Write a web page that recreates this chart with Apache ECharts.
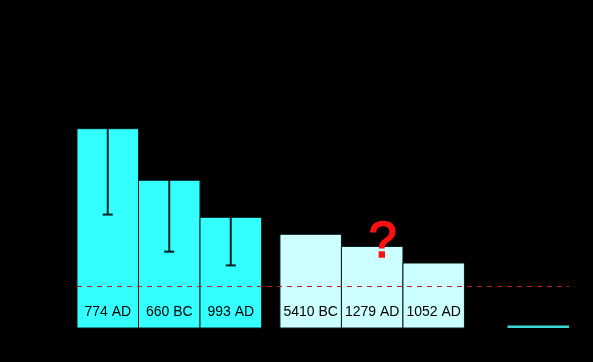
<!DOCTYPE html>
<html><head><meta charset="utf-8">
<script src="https://cdn.jsdelivr.net/npm/echarts@6/dist/echarts.min.js"></script>
<style>html,body{margin:0;padding:0;background:#000;}#c{width:593px;height:362px;}</style>
</head><body><div id="c"></div>
<script>
var categories = ['774 AD', '660 BC', '993 AD', '5410 BC', '1279 AD', '1052 AD', ''];
var positions = [1, 2, 3, 4.3, 5.3, 6.3, 8];
var values = [1.0, 0.741, 0.555, 0.470, 0.409, 0.326, 0.012];
var lowerErr = [0.569, 0.383, 0.314, null, null, null, null];
var threshold = 0.214;
var questionAt = 4; // index of uncertain event

var colors = ['#33ffff', '#33ffff', '#33ffff', '#ccffff', '#ccffff', '#ccffff', '#3ad6d6'];

var barData = positions.map(function (p, i) { return [p, values[i], i]; });
var errData = positions.map(function (p, i) { return lowerErr[i] == null ? null : [p, values[i], lowerErr[i]]; }).filter(Boolean);

var chart = echarts.init(document.getElementById('c'));
chart.setOption({
  backgroundColor: '#000',
  animation: false,
  grid: { left: 77, right: 24, top: 29, bottom: 34 },
  xAxis: { type: 'value', min: 0.5, max: 8.5, show: false },
  yAxis: { type: 'value', min: 0, max: 1.5, show: false },
  series: [
    {
      type: 'custom',
      data: barData,
      renderItem: function (params, api) {
        var x = api.value(0), v = api.value(1), i = api.value(2);
        var p0 = api.coord([x - 0.5, v]);
        var p1 = api.coord([x + 0.5, 0]);
        var isLast = i === values.length - 1;
        var children = [{
          type: 'rect',
          shape: { x: p0[0], y: p0[1], width: p1[0] - p0[0], height: p1[1] - p0[1] },
          style: { fill: colors[i], stroke: isLast ? null : '#0a1a1a', lineWidth: isLast ? 0 : 1 }
        }];
        if (categories[i]) {
          children.push({
            type: 'text',
            x: (p0[0] + p1[0]) / 2, y: p1[1] - 16,
            style: { text: categories[i], fill: '#000', font: '14px "Liberation Sans", Arial, sans-serif', align: 'center', verticalAlign: 'middle' }
          });
        }
        if (i === questionAt) {
          children.push({
            type: 'text',
            x: (p0[0] + p1[0]) / 2 + 10.5, y: p0[1] - 3,
            style: { text: '?', fill: '#ff1010', stroke: '#ff1010', lineWidth: 1.6, font: '50px "Liberation Sans", Arial, sans-serif', align: 'center', verticalAlign: 'middle' },
            z2: 10
          });
        }
        return { type: 'group', children: children };
      },
      z: 2
    },
    {
      type: 'custom',
      data: errData,
      renderItem: function (params, api) {
        var x = api.value(0);
        var top = api.coord([x, api.value(1)]);
        var bot = api.coord([x, api.value(2)]);
        return { type: 'group', children: [
          { type: 'line', shape: { x1: top[0], y1: top[1], x2: bot[0], y2: bot[1] }, style: { stroke: '#062020', lineWidth: 2 } },
          { type: 'line', shape: { x1: bot[0] - 5, y1: bot[1], x2: bot[0] + 5, y2: bot[1] }, style: { stroke: '#062020', lineWidth: 2 } }
        ]};
      },
      z: 3
    },
    {
      type: 'line',
      data: [],
      markLine: {
        symbol: 'none', silent: true, label: { show: false },
        lineStyle: { color: '#c02020', type: [5, 5], width: 1 },
        data: [{ yAxis: threshold }]
      },
      z: 4
    }
  ]
});
</script></body></html>
